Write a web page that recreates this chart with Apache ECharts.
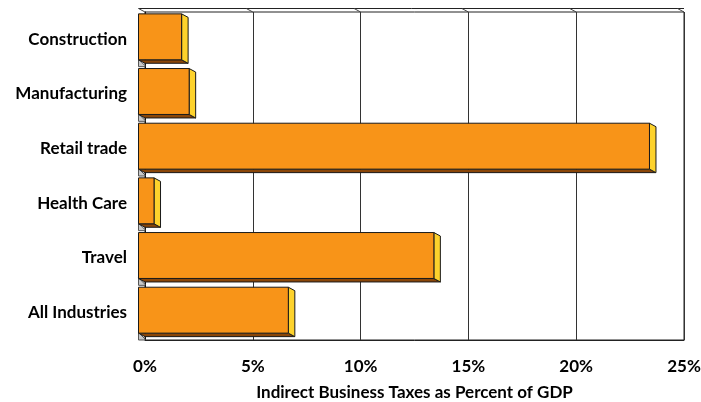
<!DOCTYPE html>
<html><head><meta charset="utf-8">
<script src="https://cdn.jsdelivr.net/npm/echarts@6/dist/echarts.min.js"></script>
<style>html,body{margin:0;padding:0;background:#fff}#c{width:701px;height:402px}</style>
</head><body><div id="c"></div>
<script>
const categories = ['Construction', 'Manufacturing', 'Retail trade', 'Health Care', 'Travel', 'All Industries'];
const values = [2.0, 2.35, 23.7, 0.72, 13.7, 6.95];
const xTicks = [0, 5, 10, 15, 20, 25];
const xTitle = 'Indirect Business Taxes as Percent of GDP';

const DX = 6.5, DY = 3.5;
const FONT = 'Lato';

function barItem(params, api) {
  const v = api.value(0), idx = api.value(1);
  const end = api.coord([v, idx]);
  const start = api.coord([0, idx]);
  const band = api.size([0, 1])[1];
  const h = band * 0.84;
  const yT = end[1] - h / 2 + 1, yB = end[1] + h / 2 + 1;
  const bx0 = start[0], bx1 = end[0];
  const fx0 = bx0 - DX, fx1 = bx1 - DX, fyT = yT - DY, fyB = yB - DY;
  const st = {stroke: '#1a1a1a', lineWidth: 1};
  return {type: 'group', children: [
    {type: 'polygon', shape: {points: [[fx0, fyB], [fx1, fyB], [bx1, yB], [bx0, yB]]},
      style: Object.assign({fill: '#8a4608'}, st)},
    {type: 'polygon', shape: {points: [[fx1, fyT], [bx1, yT], [bx1, yB], [fx1, fyB]]},
      style: Object.assign({fill: '#fdd22c'}, st)},
    {type: 'rect', shape: {x: fx0, y: fyT, width: fx1 - fx0, height: fyB - fyT},
      style: Object.assign({fill: '#f89418'}, st)}
  ]};
}

function frameItem(params, api) {
  const idx = api.value(1);
  const band = api.size([0, 1])[1];
  const c = api.coord([0, idx]);
  const yb = c[1] + band / 2;
  const x = c[0];
  const children = [
    {type: 'polygon', shape: {points: [[x - DX, yb - DY - 4], [x, yb - 1], [x, yb], [x - DX, yb]]},
      style: {fill: '#c8c8c8', stroke: '#555', lineWidth: 1}}
  ];
  if (idx === 0) {
    const yt = c[1] - band / 2;
    const r = api.coord([xTicks[xTicks.length - 1], idx])[0];
    children.push({type: 'line', shape: {x1: x - DX, y1: yt - DY, x2: r, y2: yt - DY}, style: {stroke: '#222', lineWidth: 1}});
    xTicks.forEach(function (t) {
      const px = api.coord([t, idx])[0];
      children.push({type: 'line', shape: {x1: px - DX, y1: yt - DY, x2: px, y2: yt}, style: {stroke: '#444', lineWidth: 1}});
    });
  }
  return {type: 'group', children: children};
}

const chart = echarts.init(document.getElementById('c'), null, {renderer: 'canvas'});
chart.setOption({
  animation: false,
  backgroundColor: '#fff',
  grid: {left: 145, right: 17, top: 12, bottom: 62, show: true, borderColor: '#222', borderWidth: 1,
    containLabel: false, outerBoundsMode: 'none'},
  xAxis: {
    type: 'value', min: xTicks[0], max: xTicks[xTicks.length - 1], interval: 5,
    axisLine: {show: true, lineStyle: {color: '#222'}},
    axisTick: {show: false},
    splitLine: {show: true, lineStyle: {color: '#333', width: 1}},
    axisLabel: {formatter: '{value}%', fontFamily: FONT, fontWeight: 'bold', fontSize: 17, color: '#000', margin: 18},
    name: xTitle, nameLocation: 'middle', nameGap: 44,
    nameTextStyle: {fontFamily: FONT, fontWeight: 'bold', fontSize: 17, color: '#000'}
  },
  yAxis: {
    type: 'category', data: categories, inverse: true, offset: 6,
    axisLine: {show: true, lineStyle: {color: '#111'}},
    axisTick: {show: false},
    axisLabel: {fontFamily: FONT, fontWeight: 'bold', fontSize: 17, color: '#000', margin: 12}
  },
  series: [
    {type: 'custom', clip: false, renderItem: frameItem, encode: {x: 0, y: 1},
      data: categories.map(function (c, i) { return [0, i]; }), z: 1},
    {type: 'custom', clip: false, renderItem: barItem, encode: {x: 0, y: 1},
      data: values.map(function (v, i) { return [v, i]; }), z: 3}
  ]
});
</script></body></html>
